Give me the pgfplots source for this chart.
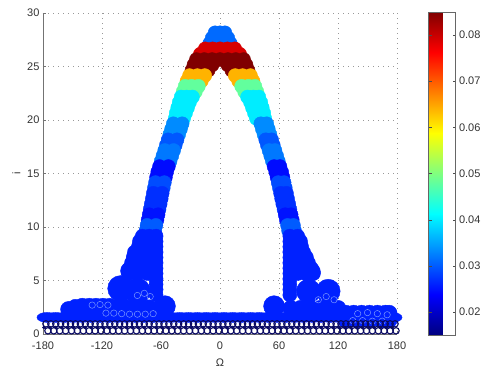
\documentclass[border=0pt]{standalone}
\usepackage{fontspec}
\setmainfont{Liberation Sans}
\usepackage{pgfplots}
\pgfplotsset{compat=1.18}
\usepackage{pgfplotstable}
\definecolor{navyo}{RGB}{10,10,100}
\definecolor{lite}{RGB}{120,150,255}
\pgfplotsset{/pgf/number format/assume math mode=true,
  sc/.style={only marks, scatter, mark=*, mark size=#1, point meta=explicit,
    scatter/use mapped color={draw=mapped color, fill=mapped color}}}

\pgfplotstableread{
x y c
-5 28.15 0.031
0 28.15 0.031
5 28.15 0.031
-8 27.65 0.031
0 27.65 0.031
8 27.65 0.031
-10.5 27.15 0.031
-3.5 27.15 0.031
3.5 27.15 0.031
10.5 27.15 0.031
-15 26.65 0.079
-7.5 26.65 0.079
0 26.65 0.079
7.5 26.65 0.079
15 26.65 0.079
-20 26.15 0.079
-12 26.15 0.079
-4 26.15 0.079
4 26.15 0.079
12 26.15 0.079
20 26.15 0.079
-24 25.65 0.085
-16 25.65 0.085
-8 25.65 0.085
0 25.65 0.085
8 25.65 0.085
16 25.65 0.085
24 25.65 0.085
-26.5 25.15 0.085
-20 25.15 0.085
-14 25.15 0.085
-8 25.15 0.085
8 25.15 0.085
14 25.15 0.085
20 25.15 0.085
26.5 25.15 0.085
-28.5 24.65 0.085
-20 24.65 0.085
-12 24.65 0.085
12 24.65 0.085
20 24.65 0.085
28.5 24.65 0.085
-31 24.15 0.064
-23 24.15 0.064
-15.5 24.15 0.064
15.5 24.15 0.064
23 24.15 0.064
31 24.15 0.064
-33.5 23.65 0.064
-26 23.65 0.064
-19 23.65 0.064
19 23.65 0.064
26 23.65 0.064
33.5 23.65 0.064
-35.5 23.15 0.048
-29 23.15 0.048
-22 23.15 0.048
22 23.15 0.048
29 23.15 0.048
35.5 23.15 0.048
-37.5 22.65 0.048
-31 22.65 0.048
-25 22.65 0.048
25 22.65 0.048
31 22.65 0.048
37.5 22.65 0.048
-39.5 22.15 0.040
-34 22.15 0.040
-28 22.15 0.040
28 22.15 0.040
34 22.15 0.040
39.5 22.15 0.040
-41.5 21.65 0.040
-31 21.65 0.040
31 21.65 0.040
41.5 21.65 0.040
-43 21.15 0.040
-33 21.15 0.040
33 21.15 0.040
43 21.15 0.040
-44.5 20.65 0.040
-35 20.65 0.040
35 20.65 0.040
44.5 20.65 0.040
-45.5 20.15 0.040
-37 20.15 0.040
37 20.15 0.040
45.5 20.15 0.040
-47.5 19.65 0.0333
-38.5 19.65 0.0333
41.5 19.65 0.0333
47.5 19.65 0.0333
-49.2 19.15 0.0333
-40.2 19.15 0.0333
43.1 19.15 0.0333
49.1 19.15 0.0333
-51.0 18.65 0.0333
-42.0 18.65 0.0333
44.8 18.65 0.0333
50.8 18.65 0.0333
-52.7 18.15 0.0297
-43.7 18.15 0.0297
46.5 18.15 0.0297
52.5 18.15 0.0297
-54.5 17.65 0.0297
-45.5 17.65 0.0297
48.2 17.65 0.0297
54.2 17.65 0.0297
-56.2 17.15 0.032
-47.2 17.15 0.032
49.9 17.15 0.032
55.9 17.15 0.032
-58.0 16.65 0.032
-49.0 16.65 0.032
51.6 16.65 0.032
57.6 16.65 0.032
-59.8 16.15 0.032
-50.8 16.15 0.032
53.3 16.15 0.032
59.3 16.15 0.032
-61.5 15.65 0.0245
-52.5 15.65 0.0245
55.0 15.65 0.0245
61.0 15.65 0.0245
-63.3 15.15 0.0245
-54.3 15.15 0.0245
56.7 15.15 0.0245
62.7 15.15 0.0245
-64.5 14.65 0.0245
-55.5 14.65 0.0245
58.0 14.65 0.0245
64.0 14.65 0.0245
-65.6 14.15 0.029
-56.6 14.15 0.029
59.2 14.15 0.029
65.2 14.15 0.029
-66.7 13.65 0.029
-57.7 13.65 0.029
60.4 13.65 0.029
66.4 13.65 0.029
-67.8 13.15 0.027
-58.8 13.15 0.027
61.6 13.15 0.027
67.6 13.15 0.027
-68.8 12.65 0.027
-59.8 12.65 0.027
62.7 12.65 0.027
68.7 12.65 0.027
-69.9 12.15 0.027
-60.9 12.15 0.027
63.9 12.15 0.027
69.9 12.15 0.027
-71.0 11.65 0.027
-62.0 11.65 0.027
65.1 11.65 0.027
71.1 11.65 0.027
-72.0 11.15 0.025
-63.0 11.15 0.025
66.3 11.15 0.025
72.3 11.15 0.025
-73.1 10.65 0.025
-64.1 10.65 0.025
67.5 10.65 0.025
73.5 10.65 0.025
-74.2 10.15 0.030
-65.2 10.15 0.030
68.7 10.15 0.030
74.7 10.15 0.030
-75.3 9.65 0.030
-66.3 9.65 0.030
69.8 9.65 0.030
75.8 9.65 0.030
}\toprows

\pgfplotstableread{
x y c
-79 9.15 0.026
-72 9.15 0.026
-65 9.15 0.026
-81 8.65 0.026
-73 8.65 0.026
-65 8.65 0.026
-83 8.15 0.026
-74 8.15 0.026
-65 8.15 0.026
-87 7.65 0.026
-79 7.65 0.026
-72 7.65 0.026
-65 7.65 0.026
-88 7.15 0.026
-80 7.15 0.026
-72 7.15 0.026
-65 7.15 0.026
-90 6.65 0.026
-82 6.65 0.026
-73 6.65 0.026
-65 6.65 0.026
-92 6.15 0.026
-83 6.15 0.026
-74 6.15 0.026
-65 6.15 0.026
-93 5.65 0.026
-84 5.65 0.026
-74 5.65 0.026
-65 5.65 0.026
-65 5.15 0.026
-65 4.65 0.026
-65 4.15 0.026
-65 3.65 0.026
71 9.15 0.026
79 9.15 0.026
71 8.65 0.026
76 8.65 0.026
81 8.65 0.026
71 8.15 0.026
77 8.15 0.026
83 8.15 0.026
71 7.65 0.026
78 7.65 0.026
85 7.65 0.026
71 7.15 0.026
79 7.15 0.026
87 7.15 0.026
71 6.65 0.026
80 6.65 0.026
90 6.65 0.026
71 6.15 0.026
78.5 6.15 0.026
86 6.15 0.026
93 6.15 0.026
71 5.65 0.026
79 5.65 0.026
87 5.65 0.026
95 5.65 0.026
71 5.15 0.026
71 4.65 0.026
71 4.15 0.026
71 3.65 0.026
}\lowlegs

\begin{document}
\begin{tikzpicture}
\useasboundingbox (-43pt,-37pt) rectangle (438pt,334pt);
\begin{axis}[
  at={(0pt,0pt)}, anchor=south west,
  width=354pt, height=321pt, scale only axis,
  xmin=-180, xmax=180, ymin=0, ymax=30,
  xtick={-180,-120,-60,0,60,120,180}, ytick={0,5,10,15,20,25,30},
  axis x line*=bottom, axis y line*=left,
  axis line style={black!55, line width=0.8pt},
  tick align=inside, major tick length=3pt, tick style={black!55},
  grid=major, major grid style={black!40, line width=0.6pt, dash pattern=on 1pt off 4pt},
  tick label style={font=\fontsize{11}{13}\selectfont, text=black!80},
  xticklabel style={yshift=-4pt},
  label style={font=\fontsize{11}{13}\selectfont, text=black!80},
  xlabel style={yshift=-3pt},
  xlabel={Ω}, ylabel={i},
  colormap/jet, point meta min=0.015, point meta max=0.085,
  colorbar,
  colorbar style={
    at={(parent axis.north east)}, anchor=north west, xshift=23pt, yshift=1pt,
    width=27pt, height=323pt, scale only axis,
    ytick={0.02,0.03,0.04,0.05,0.06,0.07,0.08},
    scaled y ticks=false,
    ytick pos=both, yticklabel pos=right,
    tick align=inside, major tick length=3pt, tick style={black!70},
    axis line style={black!60},
    yticklabel style={/pgf/number format/.cd, fixed, fixed zerofill, precision=2,
      /pgf/number format/assume math mode=true, /tikz/.cd,
      font=\fontsize{11}{13}\selectfont, text=black!80},
  },
]
% bottom strip
\addplot[sc=5, mark options={xscale=2}] table[meta=c] {
x y c
-176 1.55 0.026
-167 1.55 0.026
-158 1.55 0.026
-149 1.55 0.026
-140 1.55 0.026
-131 1.55 0.026
-122 1.55 0.026
-113 1.55 0.026
-104 1.55 0.026
-95 1.55 0.026
-86 1.55 0.026
-77 1.55 0.026
-68 1.55 0.026
-59 1.55 0.026
-50 1.55 0.026
-41 1.55 0.026
-32 1.55 0.026
-23 1.55 0.026
-14 1.55 0.026
-5 1.55 0.026
4 1.55 0.026
13 1.55 0.026
22 1.55 0.026
31 1.55 0.026
40 1.55 0.026
49 1.55 0.026
58 1.55 0.026
67 1.55 0.026
76 1.55 0.026
85 1.55 0.026
94 1.55 0.026
103 1.55 0.026
112 1.55 0.026
121 1.55 0.026
130 1.55 0.026
139 1.55 0.026
148 1.55 0.026
157 1.55 0.026
166 1.55 0.026
175 1.55 0.026
};
% platforms
\addplot[sc=8] table[meta=c] {
x y c
-154 2.3 0.026
-147 2.5 0.026
-140 2.6 0.026
-133 2.6 0.026
-126 2.6 0.026
-119 2.6 0.026
-112 2.6 0.026
-104 2.5 0.026
-96 2.45 0.026
-88 2.45 0.026
-80 2.45 0.026
-72 2.45 0.026
72 2.4 0.026
82 2.4 0.026
92 2.4 0.026
102 2.4 0.026
112 2.4 0.026
120 2.4 0.026
128 1.95 0.026
136 1.95 0.026
144 1.95 0.026
152 1.95 0.026
160 1.95 0.026
168 1.95 0.026
172 1.95 0.026
128 1.3 0.026
140 1.3 0.026
152 1.3 0.026
164 1.3 0.026
172 1.3 0.026
};
% bulges
\addplot[sc=13] table[meta=c] {
x y c
-101 4.25 0.026
-84 4.0 0.026
};
\addplot[sc=12] table[meta=c] {
x y c
110 4.0 0.026
90 4.0 0.026
};
\addplot[sc=10.5] table[meta=c] {
x y c
-56 2.6 0.026
55 2.6 0.026
};
\addplot[sc=9] table[meta=c] {
x y c
-80 8.6 0.026
-86 7.2 0.026
-92 5.9 0.026
80 8.6 0.026
86 7.1 0.026
93 5.8 0.026
};
% arch and legs
\addplot[sc=7] table[meta=c] {\toprows};
\addplot[sc=7] table[meta=c] {\lowlegs};
% light texture
\addplot[only marks, mark=o, mark size=3.2, mark options={draw=lite, line width=0.5pt}] coordinates {
(-116,1.95) (-108,1.95) (-100,1.9) (-92,1.85) (-84,1.85) (-76,1.85) (-68,1.9)
(-130,2.7) (-122,2.75) (-114,2.7) (-84,3.6) (-77,3.8) (-71,3.5)
(100,3.2) (108,3.5) (116,3.2) (140,1.9) (150,2.0) (160,1.9) (170,1.8)
(135,1.25) (145,1.25) (155,1.2) (165,1.2)
};
% bottom noise: small filled dots
\addplot[only marks, mark=*, mark size=1.6, mark options={draw=navyo, fill=navyo}] coordinates {
(-179,0.6) (-173,0.6) (-167,0.6) (-161,0.6) (-155,0.6) (-149,0.6) (-143,0.6) (-137,0.6) (-131,0.6) (-125,0.6)
(-119,0.6) (-113,0.6) (-107,0.6) (-101,0.6) (-95,0.6) (-89,0.6) (-83,0.6) (-77,0.6) (-71,0.6) (-65,0.6)
(-59,0.6) (-53,0.6) (-47,0.6) (-41,0.6) (-35,0.6) (-29,0.6) (-23,0.6) (-17,0.6) (-11,0.6) (-5,0.6)
(1,0.6) (7,0.6) (13,0.6) (19,0.6) (25,0.6) (31,0.6) (37,0.6) (43,0.6) (49,0.6) (55,0.6)
(61,0.6) (67,0.6) (73,0.6) (79,0.6) (85,0.6) (91,0.6) (97,0.6) (103,0.6) (109,0.6) (115,0.6)
(121,0.6) (127,0.6) (133,0.6) (139,0.6) (145,0.6) (151,0.6) (157,0.6) (163,0.6) (169,0.6) (175,0.6)
};
% bottom noise: open circles
\addplot[only marks, mark=o, mark size=3.2, mark options={draw=navyo, line width=1.1pt}] coordinates {
(-177,0.95) (-172,0.95) (-167,0.95) (-162,0.95) (-157,0.95) (-152,0.95) (-147,0.95) (-142,0.95) (-137,0.95) (-132,0.95)
(-127,0.95) (-122,0.95) (-117,0.95) (-112,0.95) (-107,0.95) (-102,0.95) (-97,0.95) (-92,0.95) (-87,0.95) (-82,0.95)
(-77,0.95) (-72,0.95) (-67,0.95) (-62,0.95) (-57,0.95) (-52,0.95) (-47,0.95) (-42,0.95) (-37,0.95) (-32,0.95)
(-27,0.95) (-22,0.95) (-17,0.95) (-12,0.95) (-7,0.95) (-2,0.95) (3,0.95) (8,0.95) (13,0.95) (18,0.95)
(23,0.95) (28,0.95) (33,0.95) (38,0.95) (43,0.95) (48,0.95) (53,0.95) (58,0.95) (63,0.95) (68,0.95)
(73,0.95) (78,0.95) (83,0.95) (88,0.95) (93,0.95) (98,0.95) (103,0.95) (108,0.95) (113,0.95) (118,0.95)
(123,0.95) (128,0.95) (133,0.95) (138,0.95) (143,0.95) (148,0.95) (153,0.95) (158,0.95) (163,0.95) (168,0.95) (173,0.95) (178,0.95)
(-175,0.3) (-169,0.3) (-163,0.3) (-157,0.3) (-151,0.3) (-145,0.3) (-139,0.3) (-133,0.3) (-127,0.3) (-121,0.3)
(-115,0.3) (-109,0.3) (-103,0.3) (-97,0.3) (-91,0.3) (-85,0.3) (-79,0.3) (-73,0.3) (-67,0.3) (-61,0.3)
(-55,0.3) (-49,0.3) (-43,0.3) (-37,0.3) (-31,0.3) (-25,0.3) (-19,0.3) (-13,0.3) (-7,0.3) (-1,0.3)
(5,0.3) (11,0.3) (17,0.3) (23,0.3) (29,0.3) (35,0.3) (41,0.3) (47,0.3) (53,0.3) (59,0.3)
(65,0.3) (71,0.3) (77,0.3) (83,0.3) (89,0.3) (95,0.3) (101,0.3) (107,0.3) (113,0.3) (119,0.3)
(125,0.3) (131,0.3) (137,0.3) (143,0.3) (149,0.3) (155,0.3) (161,0.3) (167,0.3) (173,0.3) (179,0.3)
};
\end{axis}
\end{tikzpicture}
\end{document}
